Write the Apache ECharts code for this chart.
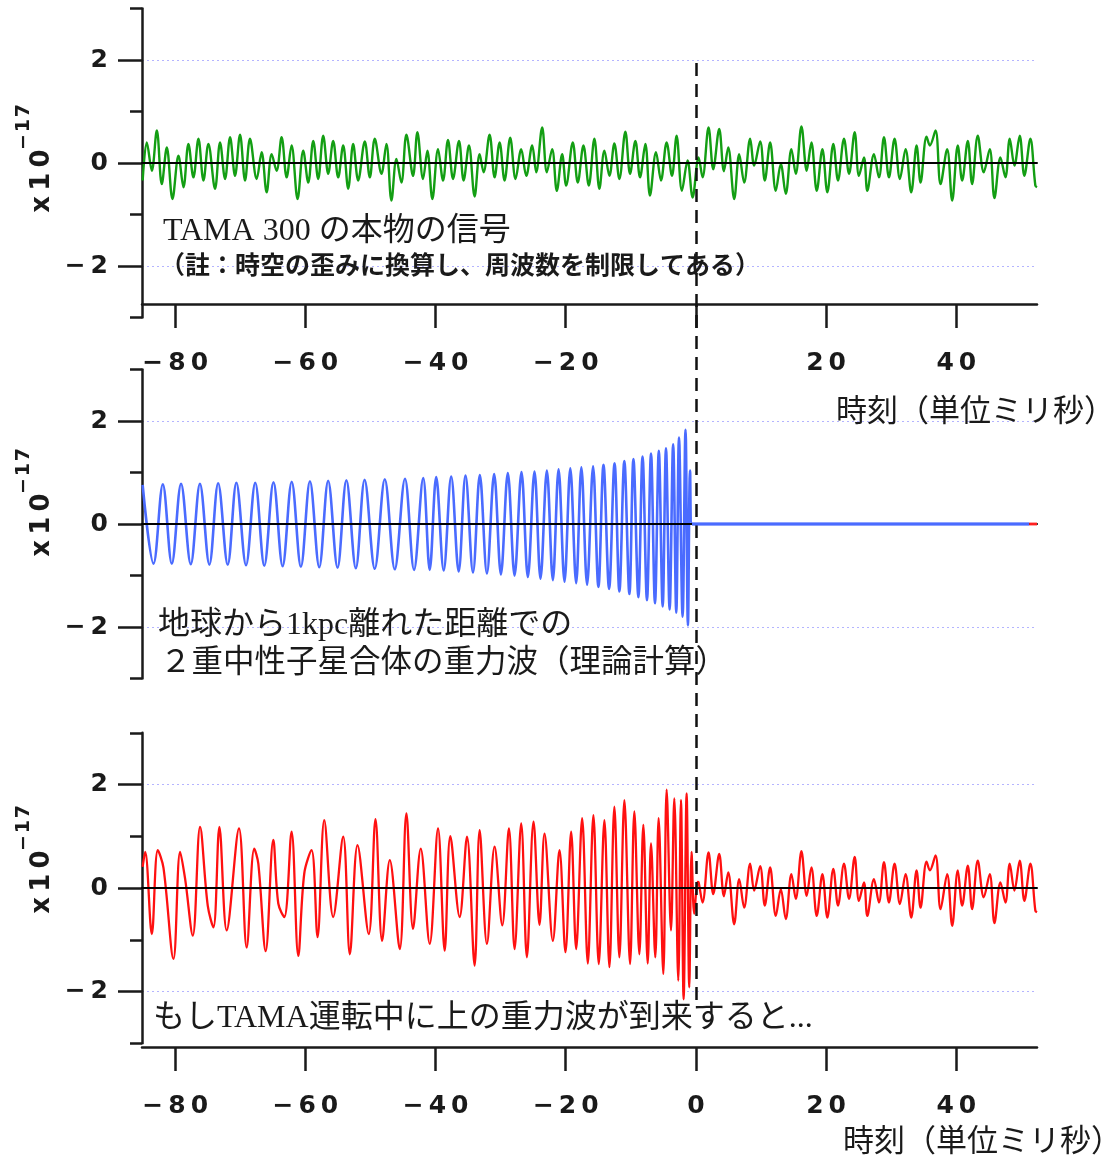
<!DOCTYPE html>
<html><head><meta charset="utf-8">
<script src="https://cdn.jsdelivr.net/npm/echarts@6/dist/echarts.min.js"></script>
<style>html,body{margin:0;padding:0;background:#fff}#c{width:1107px;height:1159px}</style>
</head><body><div id="c"></div>
<script>
// ---- data (time in ms, strain in units of 1e-17) ----
const tamaSignal = [
[-85.0,-0.34],[-84.36,0.40],[-83.59,-0.15],[-82.82,0.63],[-82.06,-0.41],[-81.29,0.30],[-80.42,-0.70],[-79.50,0.14],[-78.73,-0.47],[-77.97,0.37],[-77.20,-0.28],[-76.43,0.47],[-75.66,-0.34],[-74.90,0.37],[-73.88,-0.50],[-73.11,0.40],[-72.34,-0.31],[-71.57,0.50],[-70.81,-0.25],[-70.04,0.55],[-69.27,-0.34],[-68.51,0.47],[-67.48,-0.31],[-66.72,0.21],[-65.95,-0.57],[-65.18,0.17],[-64.42,-0.15],[-63.65,0.50],[-62.88,-0.28],[-62.12,0.34],[-61.20,-0.70],[-60.33,0.24],[-59.56,-0.38],[-58.79,0.43],[-58.03,-0.31],[-57.26,0.53],[-56.49,-0.21],[-55.73,0.43],[-54.96,-0.28],[-54.19,0.34],[-53.42,-0.50],[-52.66,0.37],[-51.89,-0.34],[-50.87,0.42],[-50.10,-0.28],[-49.34,0.47],[-48.31,-0.21],[-47.55,0.37],[-46.78,-0.73],[-46.01,0.08],[-45.25,-0.38],[-44.48,0.55],[-43.46,-0.25],[-42.79,0.60],[-41.92,-0.31],[-41.26,0.24],[-40.49,-0.70],[-39.62,0.27],[-38.85,-0.34],[-38.09,0.45],[-37.32,-0.31],[-36.40,0.43],[-35.69,-0.34],[-34.87,0.34],[-34.00,-0.65],[-33.23,0.17],[-32.62,-0.18],[-31.70,0.55],[-30.93,-0.28],[-30.16,0.40],[-29.40,-0.34],[-28.53,0.49],[-27.71,-0.31],[-26.84,0.27],[-26.07,-0.25],[-25.15,0.34],[-24.54,-0.18],[-23.62,0.69],[-22.90,-0.18],[-22.09,0.27],[-21.37,-0.54],[-20.55,0.17],[-19.94,-0.44],[-18.92,0.40],[-18.15,-0.38],[-17.28,0.34],[-16.46,-0.44],[-15.60,0.47],[-14.83,-0.50],[-14.06,0.24],[-13.29,-0.25],[-12.53,0.38],[-11.76,-0.31],[-10.84,0.61],[-10.12,-0.21],[-9.30,0.43],[-8.59,-0.28],[-7.77,0.37],[-7.06,-0.63],[-6.13,0.21],[-5.37,-0.34],[-4.50,0.40],[-3.68,-0.25],[-2.97,0.53],[-2.15,-0.54],[-1.28,0.05],[-0.51,-0.67],[0.41,0.11],[1.02,-0.28],[1.94,0.69],[2.66,-0.12],[3.58,0.66],[4.30,-0.16],[4.96,0.30],[5.88,-0.70],[6.65,0.17],[7.41,-0.38],[8.33,0.47],[8.95,-0.05],[9.87,0.42],[10.58,-0.34],[11.40,0.40],[12.27,-0.54],[13.04,-0.02],[13.80,-0.60],[14.67,0.27],[15.34,-0.21],[16.21,0.71],[17.02,-0.15],[17.74,0.40],[18.56,-0.54],[19.43,0.27],[20.19,-0.57],[21.11,0.37],[21.83,-0.34],[22.75,0.47],[23.52,-0.21],[24.39,0.60],[25.05,-0.25],[25.82,0.11],[26.33,-0.54],[27.35,0.17],[28.12,-0.28],[28.89,0.50],[29.65,-0.28],[30.52,0.47],[31.34,-0.31],[32.21,0.27],[33.08,-0.57],[33.90,0.34],[34.51,-0.38],[35.43,0.51],[35.94,0.34],[36.81,0.63],[37.58,-0.41],[38.60,0.27],[39.37,-0.73],[40.23,0.34],[40.90,-0.34],[41.77,0.43],[42.43,-0.41],[43.30,0.53],[44.22,-0.18],[45.14,0.27],[45.86,-0.68],[46.78,0.11],[47.55,-0.28],[48.21,0.47],[48.93,-0.05],[49.74,0.53],[50.46,-0.25],[51.38,0.47],[52.15,-0.44],[52.4,-0.47]
];
const chirpSignal = [
[-85.0,0.76],[-83.33,-0.77],[-81.9,0.77],[-80.52,-0.77],[-79.1,0.78],[-77.61,-0.78],[-76.2,0.78],[-74.75,-0.79],[-73.4,0.79],[-71.93,-0.79],[-70.6,0.80],[-69.12,-0.80],[-67.7,0.80],[-66.31,-0.81],[-64.9,0.81],[-63.50,-0.82],[-62.1,0.82],[-60.69,-0.83],[-59.3,0.83],[-57.87,-0.84],[-56.5,0.84],[-55.06,-0.85],[-53.7,0.85],[-52.25,-0.86],[-50.9,0.86],[-49.34,-0.87],[-47.8,0.87],[-46.27,-0.88],[-44.7,0.88],[-43.31,-0.89],[-41.9,0.89],[-40.90,-0.89],[-39.9,0.91],[-38.75,-0.90],[-37.6,0.92],[-36.45,-0.92],[-35.4,0.94],[-34.25,-0.94],[-33.2,0.95],[-32.11,-0.96],[-31.0,0.97],[-29.96,-0.98],[-28.9,0.99],[-27.86,-1.00],[-26.8,1.01],[-25.82,-1.03],[-24.8,1.02],[-23.88,-1.06],[-22.9,1.04],[-21.98,-1.09],[-21.1,1.06],[-20.19,-1.12],[-19.3,1.08],[-18.40,-1.15],[-17.6,1.10],[-16.72,-1.18],[-15.8,1.12],[-14.98,-1.22],[-14.2,1.15],[-13.34,-1.26],[-12.5,1.18],[-11.76,-1.31],[-11.0,1.22],[-10.22,-1.36],[-9.6,1.26],[-8.84,-1.42],[-8.2,1.31],[-7.52,-1.48],[-6.9,1.37],[-6.29,-1.54],[-5.7,1.42],[-5.11,-1.60],[-4.6,1.47],[-4.04,-1.66],[-3.5,1.55],[-3.02,-1.72],[-2.6,1.68],[-2.05,-1.80],[-1.6,1.83],[-1.23,-1.97],[-0.9,1.04],[-0.6,0],[51.2,0]
];
const chirpTail = [[51.2,0],[52.4,0]];
const combinedPreMerger = [
[-85.0,0.41],[-84.61,0.70],[-83.59,-0.89],[-82.67,0.73],[-81.80,0.39],[-80.27,-1.37],[-79.24,0.70],[-78.48,0.18],[-77.30,-0.92],[-76.18,1.18],[-75.00,-0.34],[-74.13,-0.76],[-73.21,1.18],[-72.09,-0.82],[-70.20,1.15],[-69.02,-1.15],[-67.85,0.76],[-67.23,0.47],[-66.10,-1.22],[-64.93,0.93],[-64.16,-0.30],[-63.24,-0.56],[-62.12,1.09],[-61.09,-1.31],[-60.17,0.28],[-59.05,0.73],[-58.13,-0.95],[-57.10,1.31],[-55.73,-0.56],[-54.19,0.99],[-53.17,-1.28],[-51.99,0.83],[-50.26,-0.89],[-49.23,1.33],[-48.21,-1.02],[-47.03,0.54],[-45.50,-1.18],[-44.48,1.44],[-43.46,-0.79],[-42.28,0.76],[-40.90,-1.08],[-39.62,1.15],[-38.60,-1.21],[-37.73,1.00],[-36.30,-0.56],[-35.17,0.99],[-34.00,-1.50],[-33.23,1.12],[-32.11,-1.08],[-30.93,0.80],[-29.75,-0.72],[-28.73,1.15],[-27.86,-1.18],[-26.84,1.25],[-25.97,-1.34],[-24.95,1.28],[-24.03,-0.71],[-23.26,1.05],[-21.98,-1.02],[-20.96,0.73],[-20.04,-1.24],[-19.17,1.09],[-18.40,-1.18],[-17.48,1.35],[-16.61,-1.46],[-15.75,1.41],[-14.93,-1.47],[-14.06,1.31],[-13.29,-1.53],[-12.53,1.57],[-11.76,-1.34],[-10.99,1.70],[-10.12,-1.47],[-9.46,1.48],[-8.69,-1.28],[-8.08,1.22],[-7.41,-1.46],[-6.90,0.86],[-6.24,-1.34],[-5.73,1.35],[-5.01,-1.66],[-4.50,1.90],[-3.83,-0.82],[-3.32,1.73],[-2.71,-1.79],[-2.30,1.70],[-1.89,-2.15],[-1.43,1.83],[-1.02,-1.92],[-0.67,0.70],[-0.26,-0.50],[0.26,0.12]
];
// after the merger the bottom trace is the same TAMA noise as the top panel
const combinedSignal = combinedPreMerger.concat(tamaSignal.filter(p => p[0] > 0.3));

const xTicks = [-80,-60,-40,-20,0,20,40];
const xLabelsTop = [-80,-60,-40,-20,20,40];
const xLabelsBottom = [-80,-60,-40,-20,0,20,40];
const yMajor = [-2,0,2];
const yMinor = [-3,-1,1,3];
const xMin = -85.1, xMax = 52.4, yMin = -3, yMax = 3;
const mergerTime = 0;

const texts = {
  tamaTitle: 'TAMA 300 の本物の信号',
  tamaNote: '（註：時空の歪みに換算し、周波数を制限してある）',
  chirp1: '地球から1kpc離れた距離での',
  chirp2: '２重中性子星合体の重力波（理論計算）',
  combined: 'もしTAMA運転中に上の重力波が到来すると...',
  xName: '時刻（単位ミリ秒）',
  yBase: 'x10', yExp: '\u221217'
};

// ---- styling ----
const INK = '#1a1a1a';
const fmt = v => (v < 0 ? '\u2212\u2009' : '') + String(Math.abs(v)).split('').join('\u2009');
const tickFont = {fontFamily: 'DejaVu Sans', fontWeight: 'bold', fontSize: 25, color: INK};
const L = 142, W = 895;

function dataX(gi){return {gridIndex: gi, type:'value', min:xMin, max:xMax, z:5,
  axisLine:{show:true, onZero:true, lineStyle:{color:'#000', width:2}},
  axisTick:{show:false}, axisLabel:{show:false}, splitLine:{show:false}};}
function tickX(gi, labels){return {gridIndex: gi, type:'value', min:xMin, max:xMax, position:'bottom',
  axisLine:{show:true, onZero:false, lineStyle:{color:INK, width:2.5}},
  axisTick:{show:true, inside:false, length:24, customValues:xTicks, lineStyle:{color:INK, width:2.5}},
  axisLabel:Object.assign({show:true, margin:47, customValues:labels, formatter:fmt}, tickFont),
  splitLine:{show:false}};}
function minorY(gi){return {gridIndex: gi, type:'value', min:yMin, max:yMax, position:'left',
  axisLine:{show:true, onZero:false, lineStyle:{color:INK, width:2.5}},
  axisTick:{show:true, inside:false, length:12, customValues:yMinor, lineStyle:{color:INK, width:2.5}},
  axisLabel:{show:false}, splitLine:{show:false}};}
function majorY(gi){return {gridIndex: gi, type:'value', min:yMin, max:yMax, position:'left',
  axisLine:{show:false, onZero:false},
  axisTick:{show:true, inside:false, length:24, customValues:yMajor, lineStyle:{color:INK, width:2.5}},
  axisLabel:Object.assign({show:true, margin:34, customValues:yMajor, formatter:fmt}, tickFont),
  splitLine:{show:true, lineStyle:{color:'#b4b4ff', width:1, type:[2,3]}}};}
function hiddenY(gi, mn, mx){return {gridIndex: gi, type:'value', min:mn, max:mx, show:false};}
function hiddenX(gi){return {gridIndex: gi, type:'value', min:xMin, max:xMax, show:false};}

function lineSeries(xi, yi, data, color, width, z){
  return {type:'line', xAxisIndex:xi, yAxisIndex:yi, data:data, showSymbol:false, symbol:'none',
    smooth:0.35, z:z, silent:true, lineStyle:{color:color, width:width}};
}

const serif = '"Liberation Serif", "Noto Sans CJK JP", serif';
const jp = '"Noto Sans CJK JP", sans-serif';
function label(x, y, text, size, family, weight){
  return {type:'text', left:x, top:y, silent:true, z:20,
    style:{text:text, fontSize:size, fontFamily:family, fontWeight:weight||'normal', fill:INK}};
}
function yName(cx, cy){
  return [
    {type:'text', x:cx, y:cy, rotation:Math.PI/2, silent:true, z:20,
      style:{text:texts.yBase.split('').join('\u2009'), fontSize:26, fontFamily:'DejaVu Sans', fontWeight:'bold', fill:INK, align:'center', verticalAlign:'middle'}},
    {type:'text', x:cx-18, y:cy-54, rotation:Math.PI/2, silent:true, z:20,
      style:{text:texts.yExp.split('').join('\u200a'), fontSize:19, fontFamily:'DejaVu Sans', fontWeight:'bold', fill:INK, align:'center', verticalAlign:'middle'}}
  ];
}

const chart = echarts.init(document.getElementById('c'), null, {renderer:'canvas'});
chart.setOption({
  animation:false,
  backgroundColor:'#fff',
  grid:[
    {left:L, width:W, top:8.5, height:309},
    {left:L, width:W, top:8.5, height:295.5},
    {left:L, width:W, top:369.5, height:309},
    {left:L, width:W, top:732.75, height:310.5},
    {left:L, width:W, top:732.75, height:314.25},
    {left:L, width:W, top:58, height:942}
  ],
  xAxis:[dataX(0), tickX(1, xLabelsTop), dataX(2), dataX(3), tickX(4, xLabelsBottom), hiddenX(5)],
  yAxis:[minorY(0), majorY(0), hiddenY(1,0,1), minorY(2), majorY(2), minorY(3), majorY(3), hiddenY(4,0,1), hiddenY(5,0,1)],
  series:[
    lineSeries(0, 0, tamaSignal, '#139e13', 2.4, 2),
    lineSeries(2, 3, chirpSignal, '#4a6bff', 2.6, 2),
    lineSeries(2, 3, chirpSignal.filter(p => p[0] >= -0.6), '#4a6bff', 2.8, 7),
    lineSeries(2, 3, chirpTail, '#ff2020', 2.8, 8),
    lineSeries(3, 5, combinedSignal, '#ff1010', 2.3, 2),
    {type:'line', xAxisIndex:5, yAxisIndex:8, data:[[mergerTime,0.5]], showSymbol:false, symbol:'none',
      lineStyle:{opacity:0}, z:10, silent:true,
      markLine:{silent:true, symbol:['none','none'], label:{show:false}, animation:false,
        lineStyle:{color:'#111', width:2.5, type:[13,8]}, data:[{xAxis:mergerTime}]}}
  ],
  graphic:[
    label(163, 216, texts.tamaTitle, 32, serif),
    label(160, 252, texts.tamaNote, 25, jp, 'bold'),
    label(836, 394, texts.xName, 31, jp),
    label(158, 610, texts.chirp1, 32, serif),
    label(160, 648, texts.chirp2, 31.5, serif),
    label(153, 1003, texts.combined, 32, serif),
    label(843, 1124, texts.xName, 31, jp)
  ].concat(yName(42, 181), yName(42, 525), yName(42, 882))
});
</script></body></html>
